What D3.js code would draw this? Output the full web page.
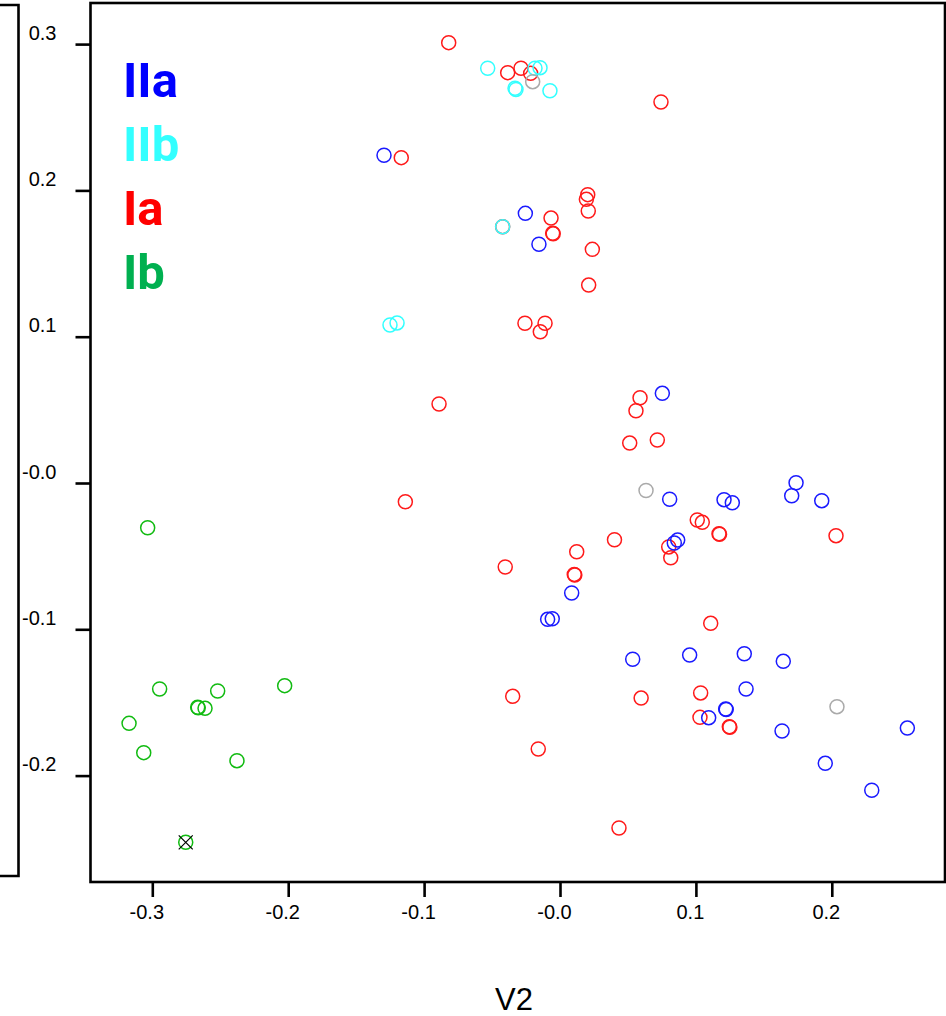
<!DOCTYPE html>
<html>
<head>
<meta charset="utf-8">
<script src="https://cdn.jsdelivr.net/npm/d3@7"></script>
<style>
  body { margin: 0; background: #fff; }
  svg { display: block; }
</style>
</head>
<body>
<svg id="chart" width="946" height="1016"></svg>
<script>
//========================
//   Data (V2, V3)
//========================
var pointsIa = [
  [-0.0819, 0.3010], [-0.0385, 0.2805], [-0.0287, 0.2835], [-0.0216, 0.2800],
  [0.0743, 0.2604], [-0.1168, 0.2224], [0.0204, 0.1971], [0.0194, 0.1939],
  [0.0208, 0.1859], [-0.0066, 0.1811], [-0.0054, 0.1707], [-0.0050, 0.1703],
  [0.0238, 0.1597], [0.0211, 0.1353], [-0.0258, 0.1092], [-0.0110, 0.1092],
  [-0.0145, 0.1034], [-0.0422, 0.1752], [-0.0890, 0.0540], [0.0589, 0.0583],
  [0.0559, 0.0494], [0.0513, 0.0273], [0.0716, 0.0294], [-0.1138, -0.0128],
  [0.1010, -0.0253], [0.1047, -0.0269], [0.1170, -0.0347], [0.1174, -0.0350],
  [0.2031, -0.0360], [0.0800, -0.0437], [0.0815, -0.0511], [0.0401, -0.0388],
  [0.0123, -0.0470], [0.0105, -0.0625], [0.0109, -0.0629], [-0.0403, -0.0574],
  [-0.0348, -0.1458], [0.0597, -0.1470], [-0.0160, -0.1818], [0.0434, -0.2358],
  [0.1109, -0.0959], [0.1035, -0.1435], [0.1030, -0.1602], [0.1246, -0.1666],
  [0.1250, -0.1669]
];
var pointsIIb = [
  [-0.0532, 0.2835], [-0.0331, 0.2698], [-0.0324, 0.2690], [-0.0184, 0.2835],
  [-0.0147, 0.2839], [-0.0074, 0.2681], [-0.0422, 0.1752], [-0.1251, 0.1080],
  [-0.1199, 0.1094]
];
var pointsIIa = [
  [-0.1295, 0.2240], [-0.0255, 0.1843], [-0.0155, 0.1632], [0.0753, 0.0613],
  [0.0807, -0.0111], [0.1207, -0.0114], [0.1268, -0.0135], [0.1737, 0.0002],
  [0.1705, -0.0087], [0.1926, -0.0121], [0.0866, -0.0390], [0.0841, -0.0410],
  [0.0086, -0.0752], [-0.0091, -0.0932], [-0.0057, -0.0928], [0.0535, -0.1205],
  [0.0954, -0.1176], [0.1356, -0.1167], [0.1643, -0.1219], [0.1369, -0.1408],
  [0.1219, -0.1545], [0.1223, -0.1548], [0.1094, -0.1604], [0.1634, -0.1695],
  [0.2556, -0.1675], [0.1952, -0.1916], [0.2294, -0.2100]
];
var pointsIb = [
  [-0.3034, -0.0306], [-0.2946, -0.1408], [-0.3171, -0.1643], [-0.3063, -0.1843],
  [-0.2666, -0.1533], [-0.2662, -0.1537], [-0.2612, -0.1540], [-0.2519, -0.1422],
  [-0.2026, -0.1385], [-0.2377, -0.1898], [-0.2754, -0.2456]
];
var pointsOther = [[-0.0201, 0.2743], [0.0633, -0.0051], [0.2038, -0.1529]];
var crossed = [[-0.2754, -0.2456]];//point marked with an X

var groupNames = ["IIa", "IIb", "Ia", "Ib"];
var groupColors = ["#0000ff", "#33ffff", "#ff0000", "#00b050"];

var xTicks = [-0.3, -0.2, -0.1, 0, 0.1, 0.2];
var xTickLabels = ["-0.3", "-0.2", "-0.1", "-0.0", "0.1", "0.2"];
var yTicks = [0.3, 0.2, 0.1, 0, -0.1, -0.2];
var yTickLabels = ["0.3", "0.2", "0.1", "-0.0", "-0.1", "-0.2"];

//========================
//   Layout
//========================
var svg = d3.select("#chart");
var plotLeft = 90.5, plotRight = 945, plotTop = 3, plotBottom = 882;

var x = d3.scaleLinear()
  .domain([(plotLeft - 560) / 1359, (plotRight - 560) / 1359])
  .range([plotLeft, plotRight]);
var y = d3.scaleLinear()
  .domain([(483 - plotBottom) / 1463, (483 - plotTop) / 1463])
  .range([plotBottom, plotTop]);

//Neighbouring panel edge on the left (cut off)
svg.append("path")
  .attr("d", "M0,5H18.5V876H0")
  .attr("fill", "none").attr("stroke", "#000").attr("stroke-width", 2.6);

//Axes
var xAxis = svg.append("g")
  .attr("transform", "translate(0," + plotBottom + ")")
  .call(d3.axisBottom(x).tickValues(xTicks).tickSize(15).tickSizeOuter(0)
    .tickFormat(function(d, i) { return xTickLabels[i]; }));
var yAxis = svg.append("g")
  .attr("transform", "translate(" + plotLeft + ",0)")
  .call(d3.axisLeft(y).tickValues(yTicks).tickSize(15).tickSizeOuter(0)
    .tickFormat(function(d, i) { return yTickLabels[i]; }));

[xAxis, yAxis].forEach(function(g) {
  g.attr("font-size", null).attr("font-family", null);
  g.select(".domain").remove();
  g.selectAll("line").attr("stroke", "#000").attr("stroke-width", 2.6);
  g.selectAll("text")
    .attr("fill", "#000")
    .style("font-family", "'Liberation Sans', Arial, sans-serif")
    .style("font-size", "20px");
});
xAxis.selectAll("text").attr("x", -6).attr("y", 37).attr("dy", null);
yAxis.selectAll("text").attr("x", -34).attr("y", -5).attr("dy", null).attr("text-anchor", "end");

//Plot frame
svg.append("rect")
  .attr("x", plotLeft).attr("y", plotTop)
  .attr("width", plotRight - plotLeft).attr("height", plotBottom - plotTop)
  .attr("fill", "none").attr("stroke", "#000").attr("stroke-width", 2.6);

//========================
//   Points
//========================
function drawPoints(data, color) {
  svg.append("g").selectAll("circle")
    .data(data).enter().append("circle")
    .attr("cx", function(d) { return x(d[0]); })
    .attr("cy", function(d) { return y(d[1]); })
    .attr("r", 7)
    .attr("fill", "none")
    .attr("stroke", color)
    .attr("stroke-width", 1.5);
}
drawPoints(pointsIa, "#ff1a1a");
drawPoints(pointsIIb, "#33ffff");
drawPoints(pointsIIa, "#1a1aff");
drawPoints(pointsOther, "#aaaaaa");
drawPoints(pointsIb, "#11bb11");

//X over the marked point
svg.append("g").selectAll("path")
  .data(crossed).enter().append("path")
  .attr("d", function(d) {
    var cx = x(d[0]), cy = y(d[1]), s = 7;
    return "M" + (cx - s) + "," + (cy - s) + "L" + (cx + s) + "," + (cy + s) +
           "M" + (cx - s) + "," + (cy + s) + "L" + (cx + s) + "," + (cy - s);
  })
  .attr("stroke", "#000").attr("stroke-width", 1.2);

//Legend
svg.append("g").selectAll("text")
  .data(groupNames).enter().append("text")
  .attr("x", 123)
  .attr("y", function(d, i) { return 97 + i * 64; })
  .attr("fill", function(d, i) { return groupColors[i]; })
  .style("font-family", "Roboto, 'Open Sans', sans-serif")
  .style("font-weight", "bold")
  .style("font-size", "49px")
  .text(function(d) { return d; });

//Axis title
svg.append("text")
  .attr("x", 514).attr("y", 1010)
  .attr("text-anchor", "middle")
  .style("font-family", "'Liberation Sans', Arial, sans-serif")
  .style("font-size", "31px")
  .text("V2");
</script>
</body>
</html>
